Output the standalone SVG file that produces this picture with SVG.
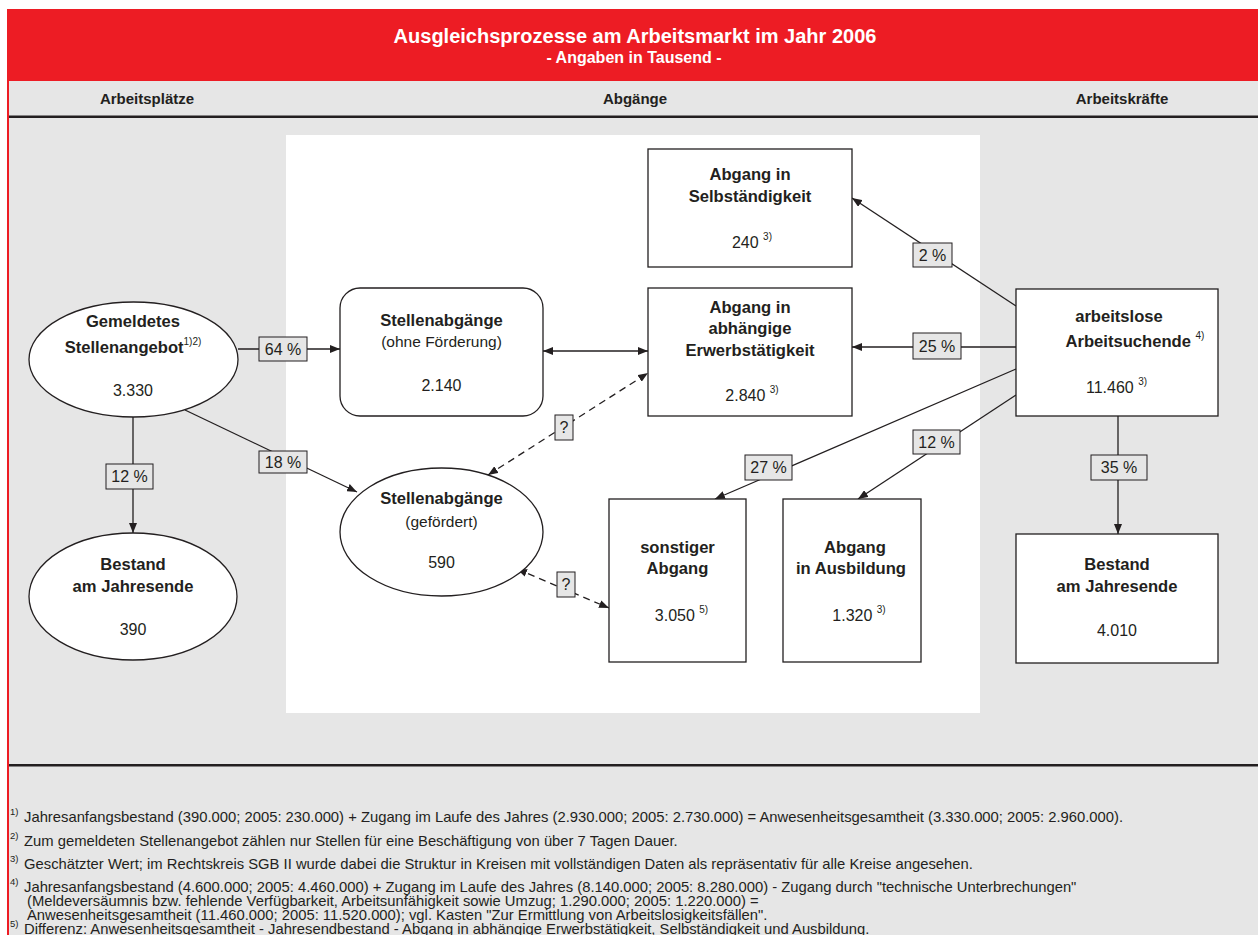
<svg xmlns="http://www.w3.org/2000/svg" width="1258" height="935" viewBox="0 0 1258 935">
<defs>
<marker id="arr" markerUnits="userSpaceOnUse" markerWidth="11" markerHeight="8" refX="10" refY="4" orient="auto-start-reverse">
<path d="M0,0 L10,4 L0,8 z" fill="#231f20"/>
</marker>
<style>
text{font-family:"Liberation Sans",Arial,Helvetica,sans-serif;fill:#231f20}
.t{fill:#fff;font-weight:bold;text-anchor:middle}
.h{font-size:15px;font-weight:bold;text-anchor:middle}
.b{font-size:16.6px;font-weight:bold;text-anchor:middle}
.r{font-size:16px;text-anchor:middle}
.r15{font-size:15.5px;text-anchor:middle}
.sup{font-size:10px}
.node{fill:#fff;stroke:#231f20;stroke-width:1.3}
.lbl rect{fill:#e6e6e6;stroke:#231f20;stroke-width:1}
.lbl text{font-size:16px;text-anchor:middle}
.c{fill:none;stroke:#231f20;stroke-width:1.3}
.d{stroke-dasharray:7 5}
.fn{font-size:14.8px}
.fs{font-size:9.5px}
</style>
</defs>

<!-- background -->
<rect x="0" y="0" width="1258" height="935" fill="#fff"/>
<rect x="7" y="81" width="1251" height="854" fill="#e6e6e6"/>
<rect x="7" y="9" width="1251" height="72" fill="#ed1c24"/>
<rect x="7" y="81" width="2" height="854" fill="#ed1c24"/>
<rect x="286" y="135" width="694" height="578" fill="#fff"/>
<rect x="9" y="115.5" width="1249" height="2.5" fill="#231f20"/>
<rect x="9" y="764" width="1249" height="2.5" fill="#231f20"/>

<!-- title -->
<text class="t" x="635" y="43" font-size="20">Ausgleichsprozesse am Arbeitsmarkt im Jahr 2006</text>
<text class="t" x="634" y="63" font-size="16">- Angaben in Tausend -</text>

<!-- header -->
<text class="h" x="147" y="104">Arbeitsplätze</text>
<text class="h" x="635" y="104">Abgänge</text>
<text class="h" x="1122" y="104">Arbeitskräfte</text>

<!-- connectors -->
<g id="connectors">
<line class="c" x1="238" y1="349" x2="340" y2="349" marker-end="url(#arr)"/>
<line class="c" x1="185" y1="410" x2="357" y2="492" marker-end="url(#arr)"/>
<line class="c" x1="133" y1="417" x2="133" y2="533" marker-end="url(#arr)"/>
<line class="c" x1="543" y1="351" x2="648" y2="351" marker-start="url(#arr)" marker-end="url(#arr)"/>
<line class="c d" x1="488" y1="475" x2="648" y2="373" marker-start="url(#arr)" marker-end="url(#arr)"/>
<line class="c d" x1="517" y1="569" x2="609" y2="608" marker-start="url(#arr)" marker-end="url(#arr)"/>
<line class="c" x1="1016" y1="306" x2="852" y2="198" marker-end="url(#arr)"/>
<line class="c" x1="1016" y1="347" x2="852" y2="347" marker-end="url(#arr)"/>
<line class="c" x1="1016" y1="369" x2="715" y2="499" marker-end="url(#arr)"/>
<line class="c" x1="1016" y1="395" x2="858" y2="499" marker-end="url(#arr)"/>
<line class="c" x1="1118" y1="416" x2="1118" y2="534" marker-end="url(#arr)"/>
<g class="lbl">
<rect x="259" y="337" width="48" height="24"/><text x="283" y="355">64 %</text>
<rect x="259" y="451" width="48" height="22"/><text x="283" y="468">18 %</text>
<rect x="106" y="464" width="47" height="25"/><text x="129.5" y="482">12 %</text>
<rect x="555" y="415" width="18" height="25"/><text x="564" y="433">?</text>
<rect x="557" y="572" width="18" height="25"/><text x="566" y="590">?</text>
<rect x="913" y="243" width="39" height="24"/><text x="932.5" y="261">2 %</text>
<rect x="913" y="333" width="48" height="26"/><text x="937" y="352">25 %</text>
<rect x="745" y="455" width="47" height="25"/><text x="768.5" y="473">27 %</text>
<rect x="913" y="430" width="47" height="24"/><text x="936.5" y="448">12 %</text>
<rect x="1091" y="455" width="56" height="25"/><text x="1119" y="473">35 %</text>
</g>
</g>

<!-- nodes -->
<g id="n-angebot">
<ellipse class="node" cx="133.5" cy="359.5" rx="104.5" ry="57.5"/>
<text class="b" x="133" y="327">Gemeldetes</text>
<text class="b" x="133" y="353">Stellenangebot<tspan class="sup" font-weight="normal" dy="-8">1)2)</tspan></text>
<text class="r" x="133" y="396">3.330</text>
</g>
<g id="n-ohne">
<rect class="node" x="340" y="288" width="203" height="128" rx="20"/>
<text class="b" x="441.5" y="326">Stellenabgänge</text>
<text class="r15" x="441.5" y="347">(ohne Förderung)</text>
<text class="r" x="441.5" y="391">2.140</text>
</g>
<g id="n-gefoerdert">
<ellipse class="node" cx="441.5" cy="532" rx="101.5" ry="64"/>
<text class="b" x="441.5" y="504">Stellenabgänge</text>
<text class="r15" x="441.5" y="527">(gefördert)</text>
<text class="r" x="441.5" y="568">590</text>
</g>
<g id="n-bestand-l">
<ellipse class="node" cx="133" cy="596.5" rx="104" ry="63.5"/>
<text class="b" x="133" y="570">Bestand</text>
<text class="b" x="133" y="592">am Jahresende</text>
<text class="r" x="133" y="635">390</text>
</g>
<g id="n-selbst">
<rect class="node" x="648" y="149" width="204" height="118"/>
<text class="b" x="750" y="180">Abgang in</text>
<text class="b" x="750" y="202">Selbständigkeit</text>
<text class="r" x="752" y="248">240 <tspan class="sup" dy="-8">3)</tspan></text>
</g>
<g id="n-abhaengig">
<rect class="node" x="648" y="288" width="204" height="128"/>
<text class="b" x="750" y="313">Abgang in</text>
<text class="b" x="750" y="334">abhängige</text>
<text class="b" x="750" y="356">Erwerbstätigkeit</text>
<text class="r" x="752" y="401">2.840 <tspan class="sup" dy="-8">3)</tspan></text>
</g>
<g id="n-arbeitslose">
<rect class="node" x="1016" y="289" width="202" height="127"/>
<text class="b" x="1119" y="322">arbeitslose</text>
<text class="b" x="1135" y="347">Arbeitsuchende <tspan class="sup" font-weight="normal" dy="-8">4)</tspan></text>
<text class="r" x="1116.5" y="393">11.460 <tspan class="sup" dy="-8">3)</tspan></text>
</g>
<g id="n-bestand-r">
<rect class="node" x="1016" y="534" width="202" height="129"/>
<text class="b" x="1117" y="570">Bestand</text>
<text class="b" x="1117" y="592">am Jahresende</text>
<text class="r" x="1117" y="636">4.010</text>
</g>
<g id="n-sonstig">
<rect class="node" x="609" y="499" width="137" height="163"/>
<text class="b" x="677.5" y="553">sonstiger</text>
<text class="b" x="677.5" y="574">Abgang</text>
<text class="r" x="681.5" y="621">3.050 <tspan class="sup" dy="-8">5)</tspan></text>
</g>
<g id="n-ausbildung">
<rect class="node" x="783" y="499" width="138" height="163"/>
<text class="b" x="855" y="553">Abgang</text>
<text class="b" x="851" y="574">in Ausbildung</text>
<text class="r" x="859" y="621">1.320 <tspan class="sup" dy="-8">3)</tspan></text>
</g>

<!-- footnotes -->
<g id="footnotes">
<text class="fs" x="10" y="815">1)</text>
<text class="fn" x="24" y="822">Jahresanfangsbestand (390.000; 2005: 230.000) + Zugang im Laufe des Jahres (2.930.000; 2005: 2.730.000) = Anwesenheitsgesamtheit (3.330.000; 2005: 2.960.000).</text>
<text class="fs" x="10" y="839">2)</text>
<text class="fn" x="24" y="846">Zum gemeldeten Stellenangebot zählen nur Stellen für eine Beschäftigung von über 7 Tagen Dauer.</text>
<text class="fs" x="10" y="862">3)</text>
<text class="fn" x="24" y="869">Geschätzter Wert; im Rechtskreis SGB II wurde dabei die Struktur in Kreisen mit vollständigen Daten als repräsentativ für alle Kreise angesehen.</text>
<text class="fs" x="10" y="885">4)</text>
<text class="fn" x="24" y="892">Jahresanfangsbestand (4.600.000; 2005: 4.460.000) + Zugang im Laufe des Jahres (8.140.000; 2005: 8.280.000) - Zugang durch "technische Unterbrechungen"</text>
<text class="fn" x="27" y="906">(Meldeversäumnis bzw. fehlende Verfügbarkeit, Arbeitsunfähigkeit sowie Umzug; 1.290.000; 2005: 1.220.000) =</text>
<text class="fn" x="27" y="920">Anwesenheitsgesamtheit (11.460.000; 2005: 11.520.000); vgl. Kasten "Zur Ermittlung von Arbeitslosigkeitsfällen".</text>
<text class="fs" x="10" y="927">5)</text>
<text class="fn" x="24" y="934">Differenz: Anwesenheitsgesamtheit - Jahresendbestand - Abgang in abhängige Erwerbstätigkeit, Selbständigkeit und Ausbildung.</text>
</g>
</svg>
